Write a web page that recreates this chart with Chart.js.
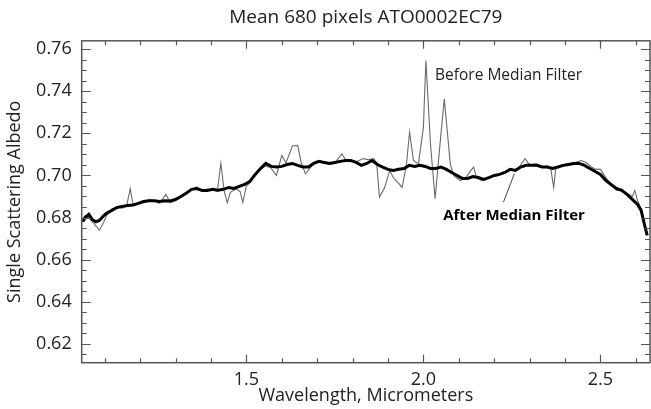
<!DOCTYPE html>
<html>
<head>
<meta charset="utf-8">
<script src="https://cdn.jsdelivr.net/npm/chart.js@4.4.1/dist/chart.umd.min.js"></script>
<style>
html,body{margin:0;padding:0;background:#fff;}
#wrap{width:651px;height:409px;position:relative;}
</style>
</head>
<body>
<div id="wrap"><canvas id="c" width="651" height="409"></canvas></div>
<script>
// ---- Data ----
const titleText = "Mean 680 pixels ATO0002EC79";
const xTitle = "Wavelength, Micrometers";
const yTitle = "Single Scattering Albedo";
const xTickLabels = [1.5, 2.0, 2.5];
const yTickLabels = [0.62, 0.64, 0.66, 0.68, 0.70, 0.72, 0.74, 0.76];

const wlAfter = [1.038,1.045,1.055,1.065,1.075,1.085,1.095,1.105,1.12,1.135,1.15,1.165,1.18,1.195,1.21,1.225,1.24,1.255,1.27,1.285,1.30,1.315,1.33,1.345,1.36,1.375,1.39,1.405,1.42,1.435,1.45,1.465,1.48,1.495,1.51,1.525,1.54,1.555,1.57,1.585,1.60,1.615,1.63,1.645,1.66,1.675,1.69,1.705,1.72,1.735,1.75,1.765,1.78,1.795,1.81,1.825,1.84,1.855,1.87,1.885,1.90,1.915,1.93,1.945,1.96,1.975,1.99,2.005,2.02,2.035,2.05,2.065,2.08,2.095,2.11,2.125,2.14,2.155,2.17,2.185,2.20,2.215,2.23,2.245,2.26,2.275,2.29,2.305,2.32,2.335,2.35,2.365,2.38,2.395,2.41,2.425,2.44,2.455,2.47,2.485,2.50,2.515,2.53,2.545,2.56,2.575,2.59,2.605,2.615,2.625,2.632];
const afterFilter = [0.678,0.680,0.6815,0.679,0.678,0.6786,0.6805,0.682,0.6834,0.6848,0.6853,0.6857,0.686,0.6867,0.6876,0.688,0.688,0.6876,0.688,0.6879,0.6886,0.690,0.6915,0.6934,0.6938,0.6929,0.6929,0.6934,0.693,0.6934,0.6943,0.6938,0.6948,0.6957,0.6972,0.7005,0.7033,0.7057,0.7043,0.704,0.7043,0.7052,0.7057,0.7048,0.704,0.704,0.7057,0.7067,0.7062,0.7057,0.7062,0.7067,0.7071,0.7071,0.7062,0.7048,0.7057,0.7071,0.7052,0.704,0.7029,0.7024,0.7029,0.7033,0.7048,0.7043,0.7048,0.7043,0.7033,0.7033,0.704,0.7029,0.7014,0.700,0.6986,0.6986,0.6995,0.699,0.6981,0.699,0.700,0.7005,0.7014,0.7029,0.7024,0.704,0.7048,0.7048,0.7048,0.704,0.704,0.7033,0.704,0.7048,0.7052,0.7057,0.7057,0.7048,0.7033,0.7019,0.7005,0.6976,0.6957,0.6938,0.6929,0.691,0.6886,0.6862,0.6834,0.6762,0.6715];

const wlBefore = [1.038,1.045,1.055,1.065,1.075,1.085,1.095,1.105,1.12,1.135,1.15,1.162,1.172,1.18,1.195,1.21,1.225,1.24,1.255,1.273,1.285,1.30,1.315,1.325,1.345,1.36,1.375,1.39,1.405,1.418,1.428,1.437,1.446,1.455,1.47,1.482,1.49,1.50,1.51,1.525,1.54,1.555,1.57,1.585,1.60,1.612,1.63,1.645,1.655,1.667,1.68,1.69,1.705,1.72,1.735,1.75,1.77,1.78,1.795,1.81,1.83,1.845,1.86,1.868,1.876,1.89,1.905,1.915,1.94,1.952,1.961,1.972,1.986,2.0,2.007,2.02,2.033,2.047,2.059,2.068,2.076,2.085,2.104,2.12,2.137,2.142,2.15,2.165,2.18,2.195,2.21,2.225,2.24,2.255,2.27,2.287,2.30,2.32,2.335,2.35,2.36,2.368,2.374,2.39,2.41,2.425,2.446,2.46,2.475,2.485,2.50,2.515,2.53,2.545,2.56,2.575,2.59,2.597,2.605,2.615,2.625,2.632];
const beforeFilter = [0.679,0.681,0.680,0.678,0.676,0.674,0.677,0.681,0.6838,0.685,0.6845,0.6855,0.6937,0.6862,0.687,0.6872,0.6885,0.688,0.6868,0.691,0.687,0.688,0.6895,0.6912,0.693,0.6945,0.6925,0.6935,0.693,0.6925,0.7058,0.693,0.687,0.692,0.6935,0.6925,0.6872,0.695,0.6965,0.700,0.703,0.7045,0.7035,0.700,0.7095,0.706,0.714,0.7143,0.706,0.7008,0.7035,0.7055,0.7065,0.706,0.7062,0.706,0.7103,0.7075,0.707,0.7065,0.708,0.7075,0.708,0.706,0.6897,0.694,0.7024,0.699,0.6944,0.705,0.7206,0.7071,0.7055,0.7227,0.7546,0.715,0.6889,0.715,0.7364,0.720,0.7055,0.700,0.6976,0.699,0.703,0.704,0.699,0.6975,0.6985,0.6995,0.700,0.701,0.7025,0.7025,0.704,0.708,0.705,0.7055,0.704,0.7045,0.703,0.6944,0.7035,0.705,0.7055,0.706,0.7071,0.706,0.704,0.703,0.7029,0.699,0.696,0.6929,0.6935,0.6915,0.690,0.6929,0.688,0.684,0.677,0.672];

// annotation anchors in data units
const beforeLabel = {text: "Before Median Filter", wl: 2.033, val: 0.7475};
const afterLabel = {text: "After Median Filter", wl: 2.056, val: 0.681};
const leader = {wl1: 2.226, val1: 0.6873, wl2: 2.257, val2: 0.7008};

const X_MIN = 1.035, X_MAX = 2.64, Y_MIN = 0.611, Y_MAX = 0.764;
const FONT = "'Open Sans', 'Noto Sans', sans-serif";
const AXIS_COLOR = '#555';

const toXY = (xs, ys) => xs.map((x, i) => ({x: x, y: ys[i]}));

const frame = {
  id: 'frame',
  afterDatasetsDraw(chart) {
    const {ctx, chartArea: a, scales} = chart;
    const xs = scales.x, ys = scales.y;
    ctx.save();
    ctx.strokeStyle = AXIS_COLOR;
    ctx.lineWidth = 1.5;
    ctx.strokeRect(a.left, a.top, a.right - a.left, a.bottom - a.top);
    ctx.lineWidth = 1.2;
    ctx.beginPath();
    for (let k = 11; k <= 26; k++) {
      const v = k / 10;
      if (v < X_MIN || v > X_MAX) continue;
      const px = Math.round(xs.getPixelForValue(v)) + 0.5;
      const len = (k % 5 === 0) ? 8 : 4.5;
      ctx.moveTo(px, a.bottom); ctx.lineTo(px, a.bottom - len);
      ctx.moveTo(px, a.top); ctx.lineTo(px, a.top + len);
    }
    for (let k = 123; k <= 152; k++) {
      const v = k * 0.005;
      if (v < Y_MIN || v > Y_MAX) continue;
      const py = Math.round(ys.getPixelForValue(v)) + 0.5;
      const len = (k % 4 === 0) ? 9 : 5;
      ctx.moveTo(a.left, py); ctx.lineTo(a.left + len, py);
      ctx.moveTo(a.right, py); ctx.lineTo(a.right - len, py);
    }
    ctx.stroke();

    ctx.fillStyle = '#222';
    ctx.textBaseline = 'middle';
    ctx.textAlign = 'left';
    ctx.font = "15.5px " + FONT;
    ctx.fillText(beforeLabel.text, xs.getPixelForValue(beforeLabel.wl), ys.getPixelForValue(beforeLabel.val));
    ctx.font = "bold 15px " + FONT;
    ctx.fillStyle = '#000';
    ctx.fillText(afterLabel.text, xs.getPixelForValue(afterLabel.wl), ys.getPixelForValue(afterLabel.val));
    ctx.strokeStyle = '#444';
    ctx.lineWidth = 1;
    ctx.beginPath();
    ctx.moveTo(xs.getPixelForValue(leader.wl1), ys.getPixelForValue(leader.val1));
    ctx.lineTo(xs.getPixelForValue(leader.wl2), ys.getPixelForValue(leader.val2));
    ctx.stroke();
    ctx.restore();
  }
};

new Chart(document.getElementById('c'), {
  type: 'scatter',
  data: {
    datasets: [
      {label: 'Before Median Filter', data: toXY(wlBefore, beforeFilter), showLine: true, borderColor: '#6a6a6a', borderWidth: 1.1, pointRadius: 0, tension: 0, order: 2},
      {label: 'After Median Filter', data: toXY(wlAfter, afterFilter), showLine: true, borderColor: '#000', borderWidth: 3, pointRadius: 0, tension: 0, order: 1}
    ]
  },
  options: {
    responsive: false,
    animation: false,
    events: [],
    layout: {padding: {left: 0, right: 1, top: 0, bottom: 0}},
    plugins: {
      legend: {display: false},
      tooltip: {enabled: false},
      title: {
        display: true, text: titleText, fullSize: false,
        color: '#222', font: {family: FONT, size: 19, weight: 'normal', lineHeight: 1.2},
        padding: {top: 6, bottom: 12}
      }
    },
    scales: {
      x: {
        type: 'linear', min: X_MIN, max: X_MAX,
        afterBuildTicks: s => { s.ticks = xTickLabels.map(v => ({value: v})); },
        afterFit: s => { s.height = 46.3; },
        grid: {display: false, drawTicks: false},
        border: {display: false},
        ticks: {color: '#222', font: {family: FONT, size: 18}, padding: 6, maxRotation: 0,
          callback: v => Number(v).toFixed(1)},
        title: {display: true, text: xTitle, color: '#222', font: {family: FONT, size: 18}, padding: {top: 0, bottom: 2}}
      },
      y: {
        type: 'linear', min: Y_MIN, max: Y_MAX,
        afterBuildTicks: s => { s.ticks = yTickLabels.map(v => ({value: v})); },
        afterFit: s => { s.width = 81.7; },
        grid: {display: false, drawTicks: false},
        border: {display: false},
        ticks: {color: '#222', font: {family: FONT, size: 18}, padding: 10,
          callback: v => Number(v).toFixed(2)},
        title: {display: true, text: yTitle, color: '#222', font: {family: FONT, size: 18}, padding: {top: 4, bottom: 0}}
      }
    }
  },
  plugins: [frame]
});
</script>
</body>
</html>
